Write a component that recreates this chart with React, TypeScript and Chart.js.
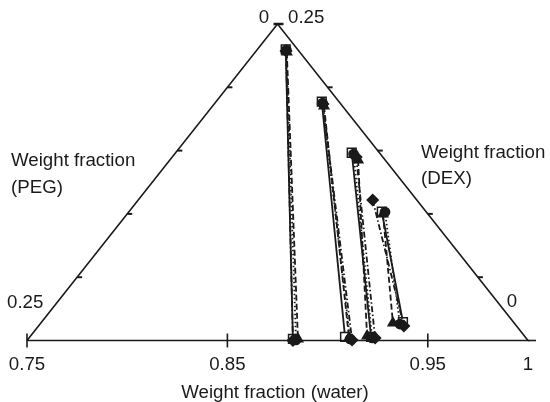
import React, { useEffect, useRef } from "react";
import { Chart, registerables } from "chart.js";

Chart.register(...registerables);

// Axis ticks
const WATER_TICKS = [0.75, 0.85, 0.95, 1];
const WATER_TICK_LABELS = ["0.75", "0.85", "0.95", "1"];
const SIDE_TICKS = [0.05, 0.1, 0.15, 0.2];

// Tie lines: [DEX top phase, PEG top phase, DEX bottom phase, PEG bottom phase]
const SQUARE_TIES = [
  [0.23, 0.0059, 0.0012, 0.1167],
  [0.1886, 0.0086, 0.0028, 0.0899],
  [0.1483, 0.0138, 0.0028, 0.0769],
  [0.1017, 0.0221, 0.0146, 0.0551],
];
const TRIANGLE_TIES = [
  [0.2279, 0.0064, 0.0012, 0.1142],
  [0.1852, 0.0092, 0.002, 0.0883],
  [0.1426, 0.0135, 0.0036, 0.0785],
  [0.0999, 0.0224, 0.0138, 0.0605],
];
const DIAMOND_TIES = [
  [0.2287, 0.0064, 0.0, 0.1173],
  [0.1868, 0.0089, 0.0004, 0.0876],
  [0.1449, 0.0133, 0.002, 0.0753],
  [0.111, 0.022, 0.0115, 0.0562],
];
const CIRCLE_TIES = [
  [0.2295, 0.0058, 0.0004, 0.1156],
  [0.1876, 0.0087, 0.0012, 0.0882],
  [0.1473, 0.0134, 0.002, 0.0768],
  [0.1015, 0.0206, 0.013, 0.0574],
];

const INK = "#1a1a1a";

// ternary -> plot coordinates (x on water base scale, y = DEX height)
const toXY = (dex: number, peg: number) => ({ x: 1 - peg - dex / 2, y: dex });

const segment = (a: { x: number; y: number }, b: { x: number; y: number }, width = 1.5) => ({
  data: [a, b],
  showLine: true,
  borderColor: INK,
  borderWidth: width,
  pointRadius: 0,
  clip: false as const,
  order: 0,
});

const SERIES = [
  { ties: SQUARE_TIES, style: "rect", radius: 6.2, bg: "#ffffff", dash: [] as number[], order: 3 },
  { ties: TRIANGLE_TIES, style: "triangle", radius: 5.5, bg: INK, dash: [6, 3], order: 2 },
  { ties: DIAMOND_TIES, style: "rectRot", radius: 5.5, bg: INK, dash: [6, 2.5, 1.5, 2.5], order: 1 },
  { ties: CIRCLE_TIES, style: "circle", radius: 4.6, bg: INK, dash: [1.5, 2.5], order: 1 },
];

function buildDatasets() {
  const ds: any[] = [];
  const BL = toXY(0, 0.25);
  const AP = toXY(0.25, 0);
  const BR = toXY(0, 0);
  ds.push({
    data: [BL, AP, BR, BL],
    showLine: true,
    borderColor: INK,
    borderWidth: 1.6,
    pointRadius: 0,
    clip: false,
    order: 0,
  });
  const tl = 0.0025;
  const th = 0.0055;
  SIDE_TICKS.forEach((p) => {
    const l = toXY(0.25 - p, p);
    ds.push(segment(l, { x: l.x + tl, y: l.y }, 2));
    const r = toXY(p, 0);
    ds.push(segment(r, { x: r.x + tl, y: r.y }, 2));
  });
  ds.push(segment({ x: AP.x - 0.002, y: AP.y }, { x: AP.x + 0.003, y: AP.y }, 2.5));
  WATER_TICKS.forEach((w) => {
    if (w < 1) ds.push(segment({ x: w, y: -th }, { x: w, y: th }, 1.6));
  });
  ds.push(segment({ x: 1, y: 0 }, { x: 1.004, y: 0 }, 1.6));

  SERIES.forEach((s) => {
    s.ties.forEach((t) => {
      ds.push({
        data: [toXY(t[0], t[1]), toXY(t[2], t[3])],
        showLine: true,
        borderColor: INK,
        borderWidth: 1.8,
        borderDash: s.dash,
        pointStyle: s.style,
        pointRadius: s.radius,
        pointBackgroundColor: s.bg,
        pointBorderColor: INK,
        pointBorderWidth: 1.5,
        clip: false,
        order: s.order,
      });
    });
  });
  return ds;
}

const labelsPlugin = {
  id: "ternaryLabels",
  afterDraw(chart: any) {
    const ctx = chart.ctx as CanvasRenderingContext2D;
    const xs = chart.scales.x;
    ctx.save();
    ctx.fillStyle = INK;
    ctx.font = '18.7px "Liberation Sans", Arial, sans-serif';
    ctx.textBaseline = "alphabetic";
    ctx.textAlign = "center";
    WATER_TICKS.forEach((v, i) => ctx.fillText(WATER_TICK_LABELS[i], xs.getPixelForValue(v), 370));
    ctx.fillText("Weight fraction (water)", 275, 398);
    ctx.fillText("0", 264, 23);
    ctx.fillText("0", 512, 307);
    ctx.textAlign = "left";
    ctx.fillText("0.25", 288, 23);
    ctx.fillText("0.25", 7, 308);
    ctx.fillText("Weight fraction", 11, 166);
    ctx.fillText("(PEG)", 11, 193);
    ctx.fillText("Weight fraction", 421, 158);
    ctx.fillText("(DEX)", 421, 184);
    ctx.restore();
  },
};

export default function App() {
  const ref = useRef<HTMLCanvasElement>(null);
  useEffect(() => {
    const chart = new Chart(ref.current as HTMLCanvasElement, {
      type: "scatter",
      data: { datasets: buildDatasets() },
      options: {
        responsive: false,
        animation: false,
        events: [],
        layout: { padding: { left: 27, right: 22, top: 24, bottom: 61.5 } },
        scales: {
          x: { type: "linear", min: 0.75, max: 1, display: false },
          y: { type: "linear", min: 0, max: 0.25, display: false },
        },
        plugins: { legend: { display: false }, tooltip: { enabled: false } },
      },
      plugins: [labelsPlugin],
    } as any);
    return () => chart.destroy();
  }, []);
  return (
    <div style={{ position: "fixed", left: 0, top: 0, width: 550, height: 402, background: "#fff" }}>
      <canvas ref={ref} width={550} height={402} style={{ display: "block" }} />
    </div>
  );
}
